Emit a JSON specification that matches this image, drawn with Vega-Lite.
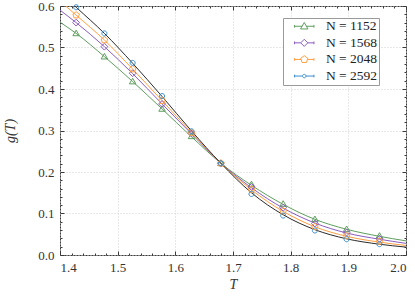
{
  "$schema": "https://vega.github.io/schema/vega-lite/v6.json",
  "width": 346,
  "height": 249,
  "autosize": {"type": "none"},
  "padding": {"left": 60, "top": 6, "right": 9, "bottom": 42},
  "config": {
    "view": {"stroke": "#3a3a3a", "strokeWidth": 1},
    "font": "Liberation Serif, DejaVu Serif, serif",
    "axis": {
      "labelFont": "Liberation Serif, DejaVu Serif, serif",
      "labelFontSize": 13,
      "labelColor": "#333333",
      "titleFont": "Liberation Serif, DejaVu Serif, serif",
      "titleFontSize": 14,
      "titleFontStyle": "italic",
      "titleFontWeight": "normal",
      "titleColor": "#333333",
      "domain": false,
      "tickColor": "#3a3a3a",
      "gridColor": "#d0d0d0",
      "gridDash": [1, 2]
    },
    "legend": {
      "labelFont": "Liberation Serif, DejaVu Serif, serif",
      "labelFontSize": 13.5,
      "labelColor": "#222222"
    }
  },
  "datasets": {
    "pts": [
      {"N": "1152", "T": 1.428, "g": 0.534}, {"N": "1152", "T": 1.477, "g": 0.478}, {"N": "1152", "T": 1.526, "g": 0.418}, {"N": "1152", "T": 1.577, "g": 0.352}, {"N": "1152", "T": 1.628, "g": 0.286}, {"N": "1152", "T": 1.679, "g": 0.221}, {"N": "1152", "T": 1.732, "g": 0.170}, {"N": "1152", "T": 1.787, "g": 0.123}, {"N": "1152", "T": 1.842, "g": 0.086}, {"N": "1152", "T": 1.897, "g": 0.062}, {"N": "1152", "T": 1.954, "g": 0.046},
      {"N": "1568", "T": 1.428, "g": 0.560}, {"N": "1568", "T": 1.477, "g": 0.502}, {"N": "1568", "T": 1.526, "g": 0.438}, {"N": "1568", "T": 1.577, "g": 0.364}, {"N": "1568", "T": 1.628, "g": 0.293}, {"N": "1568", "T": 1.679, "g": 0.221}, {"N": "1568", "T": 1.732, "g": 0.164}, {"N": "1568", "T": 1.787, "g": 0.114}, {"N": "1568", "T": 1.842, "g": 0.076}, {"N": "1568", "T": 1.897, "g": 0.054}, {"N": "1568", "T": 1.954, "g": 0.039},
      {"N": "2048", "T": 1.428, "g": 0.578}, {"N": "2048", "T": 1.477, "g": 0.518}, {"N": "2048", "T": 1.526, "g": 0.448}, {"N": "2048", "T": 1.577, "g": 0.372}, {"N": "2048", "T": 1.628, "g": 0.295}, {"N": "2048", "T": 1.679, "g": 0.221}, {"N": "2048", "T": 1.732, "g": 0.158}, {"N": "2048", "T": 1.787, "g": 0.106}, {"N": "2048", "T": 1.842, "g": 0.068}, {"N": "2048", "T": 1.897, "g": 0.046}, {"N": "2048", "T": 1.954, "g": 0.033},
      {"N": "2592", "T": 1.428, "g": 0.597}, {"N": "2592", "T": 1.477, "g": 0.534}, {"N": "2592", "T": 1.526, "g": 0.463}, {"N": "2592", "T": 1.577, "g": 0.383}, {"N": "2592", "T": 1.628, "g": 0.298}, {"N": "2592", "T": 1.679, "g": 0.221}, {"N": "2592", "T": 1.732, "g": 0.147}, {"N": "2592", "T": 1.787, "g": 0.095}, {"N": "2592", "T": 1.842, "g": 0.059}, {"N": "2592", "T": 1.897, "g": 0.038}, {"N": "2592", "T": 1.954, "g": 0.026}
    ],
    "fit": [
      {"N": "1152", "T": 1.4, "g": 0.561}, {"N": "1152", "T": 1.428, "g": 0.534}, {"N": "1152", "T": 1.477, "g": 0.478}, {"N": "1152", "T": 1.526, "g": 0.418}, {"N": "1152", "T": 1.577, "g": 0.352}, {"N": "1152", "T": 1.628, "g": 0.285}, {"N": "1152", "T": 1.679, "g": 0.221}, {"N": "1152", "T": 1.732, "g": 0.168}, {"N": "1152", "T": 1.787, "g": 0.122}, {"N": "1152", "T": 1.842, "g": 0.086}, {"N": "1152", "T": 1.897, "g": 0.062}, {"N": "1152", "T": 1.954, "g": 0.045}, {"N": "1152", "T": 2.0, "g": 0.034},
      {"N": "1568", "T": 1.4, "g": 0.590}, {"N": "1568", "T": 1.428, "g": 0.560}, {"N": "1568", "T": 1.477, "g": 0.502}, {"N": "1568", "T": 1.526, "g": 0.437}, {"N": "1568", "T": 1.577, "g": 0.364}, {"N": "1568", "T": 1.628, "g": 0.292}, {"N": "1568", "T": 1.679, "g": 0.221}, {"N": "1568", "T": 1.732, "g": 0.162}, {"N": "1568", "T": 1.787, "g": 0.113}, {"N": "1568", "T": 1.842, "g": 0.077}, {"N": "1568", "T": 1.897, "g": 0.053}, {"N": "1568", "T": 1.954, "g": 0.038}, {"N": "1568", "T": 2.0, "g": 0.028},
      {"N": "2048", "T": 1.4, "g": 0.612}, {"N": "2048", "T": 1.428, "g": 0.578}, {"N": "2048", "T": 1.477, "g": 0.518}, {"N": "2048", "T": 1.526, "g": 0.448}, {"N": "2048", "T": 1.577, "g": 0.372}, {"N": "2048", "T": 1.628, "g": 0.295}, {"N": "2048", "T": 1.679, "g": 0.221}, {"N": "2048", "T": 1.732, "g": 0.157}, {"N": "2048", "T": 1.787, "g": 0.105}, {"N": "2048", "T": 1.842, "g": 0.068}, {"N": "2048", "T": 1.897, "g": 0.045}, {"N": "2048", "T": 1.954, "g": 0.031}, {"N": "2048", "T": 2.0, "g": 0.023},
      {"N": "2592", "T": 1.4, "g": 0.633}, {"N": "2592", "T": 1.428, "g": 0.597}, {"N": "2592", "T": 1.477, "g": 0.534}, {"N": "2592", "T": 1.526, "g": 0.462}, {"N": "2592", "T": 1.577, "g": 0.382}, {"N": "2592", "T": 1.628, "g": 0.299}, {"N": "2592", "T": 1.679, "g": 0.221}, {"N": "2592", "T": 1.732, "g": 0.150}, {"N": "2592", "T": 1.787, "g": 0.097}, {"N": "2592", "T": 1.842, "g": 0.061}, {"N": "2592", "T": 1.897, "g": 0.039}, {"N": "2592", "T": 1.954, "g": 0.026}, {"N": "2592", "T": 2.0, "g": 0.019}
    ]
  },
  "resolve": {
    "scale": {"color": "independent", "shape": "independent"},
    "axis": {"x": "independent", "y": "independent"}
  },
  "layer": [
    {
      "data": {"name": "fit"},
      "mark": {"type": "line", "clip": true, "strokeWidth": 1, "interpolate": "monotone"},
      "encoding": {
        "x": {"field": "T", "type": "quantitative", "scale": {"domain": [1.4, 2.0], "nice": false, "zero": false},
          "axis": {"orient": "bottom", "title": "T", "values": [1.4, 1.5, 1.6, 1.7, 1.8, 1.9, 2.0], "format": ".1f", "grid": true, "tickSize": -4, "labelPadding": 10, "titlePadding": 3}},
        "y": {"field": "g", "type": "quantitative", "scale": {"domain": [0, 0.6], "nice": false},
          "axis": {"orient": "left", "title": "g(T)", "values": [0, 0.1, 0.2, 0.3, 0.4, 0.5, 0.6], "format": ".1f", "grid": true, "tickSize": -4, "labelPadding": 10, "titlePadding": 20}},
        "stroke": {"field": "N", "type": "nominal", "scale": {"domain": ["1152", "1568", "2048", "2592"], "range": ["#5f9e5f", "#8a5cc0", "#ff9f40", "#2b2b2b"]}, "legend": null}
      }
    },
    {
      "data": {"name": "pts"},
      "mark": {"type": "point", "filled": false, "strokeWidth": 1, "opacity": 1, "size": 52},
      "encoding": {
        "x": {"field": "T", "type": "quantitative",
          "axis": {"orient": "bottom", "title": null, "labels": false, "grid": false, "tickSize": -2, "values": [1.42, 1.44, 1.46, 1.48, 1.52, 1.54, 1.56, 1.58, 1.62, 1.64, 1.66, 1.68, 1.72, 1.74, 1.76, 1.78, 1.82, 1.84, 1.86, 1.88, 1.92, 1.94, 1.96, 1.98]}},
        "y": {"field": "g", "type": "quantitative",
          "axis": {"orient": "left", "title": null, "labels": false, "grid": false, "tickSize": -2, "values": [0.02, 0.04, 0.06, 0.08, 0.12, 0.14, 0.16, 0.18, 0.22, 0.24, 0.26, 0.28, 0.32, 0.34, 0.36, 0.38, 0.42, 0.44, 0.46, 0.48, 0.52, 0.54, 0.56, 0.58]}},
        "color": {"field": "N", "type": "nominal", "scale": {"domain": ["1152", "1568", "2048", "2592"], "range": ["#5f9e5f", "#8a5cc0", "#ff9f40", "#3a8fd0"]}, "legend": null},
        "shape": {"field": "N", "type": "nominal", "scale": {"domain": ["1152", "1568", "2048", "2592"], "range": [
          "M0,-0.9L0.9,0.65L-0.9,0.65Z",
          "M0,-0.95L0.95,0L0,0.95L-0.95,0Z",
          "M0,-0.95L0.9,-0.29L0.56,0.77L-0.56,0.77L-0.9,-0.29Z",
          "M-0.7,0A0.7,0.7,0,1,0,0.7,0A0.7,0.7,0,1,0,-0.7,0Z"
        ]}, "legend": null}
      }
    },
    {
      "data": {"name": "pts"},
      "mark": {"type": "point", "filled": false, "strokeWidth": 1, "opacity": 0},
      "encoding": {
        "x": {"field": "T", "type": "quantitative",
          "axis": {"orient": "top", "title": null, "labels": false, "grid": false, "tickSize": -4, "values": [1.4, 1.5, 1.6, 1.7, 1.8, 1.9, 2.0]}},
        "y": {"field": "g", "type": "quantitative",
          "axis": {"orient": "right", "title": null, "labels": false, "grid": false, "tickSize": -4, "values": [0, 0.1, 0.2, 0.3, 0.4, 0.5, 0.6]}},
        "color": {"field": "N", "type": "nominal", "scale": {"domain": ["1152", "1568", "2048", "2592"], "range": ["#5f9e5f", "#8a5cc0", "#ff9f40", "#3a8fd0"]},
          "legend": {"title": null, "orient": "none", "legendX": 223, "legendY": 12, "fillColor": "white", "strokeColor": "#9a9a9a", "padding": 1.5, "symbolOffset": 13, "symbolSize": 46, "symbolStrokeWidth": 1, "labelOffset": 15, "rowPadding": 1.6, "labelExpr": "'N = ' + datum.label + '\u2002\u2002'",
            "encode": {"symbols": {"update": {"opacity": {"value": 1}}}}}},
        "shape": {"field": "N", "type": "nominal", "scale": {"domain": ["1152", "1568", "2048", "2592"], "range": [
          "M-2.86,-0.4V0.4M-2.86,0H-0.64M0.64,0H2.86M2.86,-0.4V0.4M0,-1.1L1.1,0.8L-1.1,0.8Z",
          "M-2.86,-0.4V0.4M-2.86,0H-1.05M1.05,0H2.86M2.86,-0.4V0.4M0,-1.05L1.05,0L0,1.05L-1.05,0Z",
          "M-2.86,-0.4V0.4M-2.86,0H-0.94M0.94,0H2.86M2.86,-0.4V0.4M0,-1.1L1.046,-0.34L0.647,0.89L-0.647,0.89L-1.046,-0.34Z",
          "M-2.86,-0.4V0.4M-2.86,0H-0.5M0.5,0H2.86M2.86,-0.4V0.4M-0.5,0A0.5,0.5,0,1,0,0.5,0A0.5,0.5,0,1,0,-0.5,0Z"
        ]},
          "legend": {"title": null, "orient": "none", "legendX": 223, "legendY": 12, "fillColor": "white", "strokeColor": "#9a9a9a", "padding": 1.5, "symbolOffset": 13, "symbolSize": 46, "symbolStrokeWidth": 1, "labelOffset": 15, "rowPadding": 1.6, "labelExpr": "'N = ' + datum.label + '\u2002\u2002'",
            "encode": {"symbols": {"update": {"opacity": {"value": 1}}}}}}
      }
    },
    {
      "data": {"name": "pts"},
      "mark": {"type": "point", "opacity": 0},
      "encoding": {
        "x": {"field": "T", "type": "quantitative",
          "axis": {"orient": "top", "title": null, "labels": false, "grid": false, "tickSize": -2, "values": [1.42, 1.44, 1.46, 1.48, 1.52, 1.54, 1.56, 1.58, 1.62, 1.64, 1.66, 1.68, 1.72, 1.74, 1.76, 1.78, 1.82, 1.84, 1.86, 1.88, 1.92, 1.94, 1.96, 1.98]}},
        "y": {"field": "g", "type": "quantitative",
          "axis": {"orient": "right", "title": null, "labels": false, "grid": false, "tickSize": -2, "values": [0.02, 0.04, 0.06, 0.08, 0.12, 0.14, 0.16, 0.18, 0.22, 0.24, 0.26, 0.28, 0.32, 0.34, 0.36, 0.38, 0.42, 0.44, 0.46, 0.48, 0.52, 0.54, 0.56, 0.58]}}
      }
    }
  ]
}
